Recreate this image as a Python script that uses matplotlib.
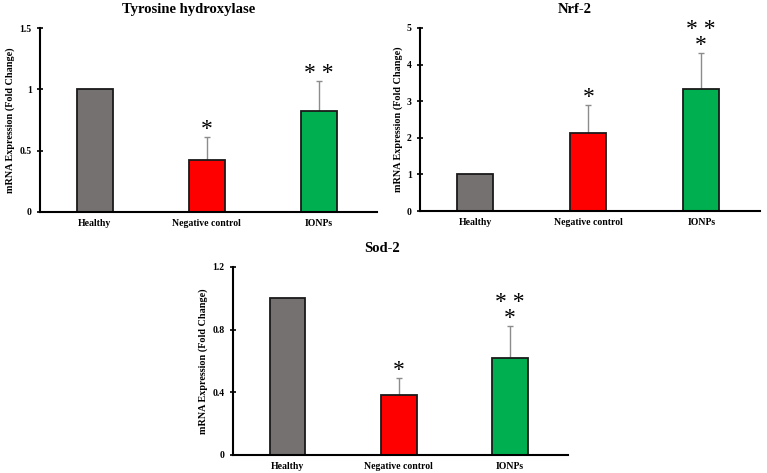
import matplotlib.pyplot as plt
import numpy as np

groups = ["Healthy", "Negative control", "IONPs"]
colors = ["#767171", "#ff0000", "#00b050"]

th_mean = [1.0, 0.42, 0.82]
th_err = [0.0, 0.19, 0.25]
th_stars = ["", "*", "* *"]

nrf_mean = [1.0, 2.14, 3.32]
nrf_err = [0.0, 0.76, 0.99]
nrf_stars = ["", "*", "* *\n*"]

sod_mean = [1.0, 0.383, 0.621]
sod_err = [0.0, 0.11, 0.20]
sod_stars = ["", "*", "* *\n*"]

serif = "Liberation Serif"
plt.rcParams["font.family"] = serif
plt.rcParams["font.weight"] = "bold"

fig = plt.figure(figsize=(7.67, 4.73), dpi=100)


def draw_panel(rect, title, means, errs, stars, ylim, yticks, yticklabels, title_x):
    ax = fig.add_axes(rect)
    x = np.arange(len(groups))
    means = np.array(means)
    errs = np.array(errs)
    ax.bar(x, means, width=0.32, color=colors, edgecolor="#1a1a1a", linewidth=1.3, zorder=2)
    has_err = errs > 0
    ax.vlines(x[has_err], means[has_err], means[has_err] + errs[has_err],
              color="#8c8c8c", linewidth=1, zorder=1)
    ax.plot(x[has_err], means[has_err] + errs[has_err], linestyle="none",
            marker="_", markersize=4, color="#8c8c8c", markeredgewidth=1, zorder=1)
    for xi, m, e, s in zip(x, means, errs, stars):
        if s:
            ax.annotate(
                s, xy=(xi, m + e), xytext=(0, -2), textcoords="offset points",
                ha="center", va="bottom", fontsize=17, linespacing=0.7,
                fontweight="normal",
            )
    ax.set_xlim(-0.49, 2.52)
    ax.set_ylim(*ylim)
    ax.set_yticks(yticks)
    ax.set_yticklabels(yticklabels, fontsize=7, fontweight="bold")
    ax.set_xticks(x)
    ax.set_xticklabels(groups, fontsize=7, fontweight="bold")
    ax.tick_params(axis="x", length=0, pad=5)
    ax.tick_params(axis="y", direction="inout", length=4, width=1.2, pad=4)
    for side in ["top", "right"]:
        ax.spines[side].set_visible(False)
    for side in ["left", "bottom"]:
        ax.spines[side].set_linewidth(1.5)
    ax.set_ylabel("mRNA Expression (Fold Change)", fontsize=7.3, fontweight="bold", labelpad=3)
    ax.annotate(
        title, xy=(title_x, 1.0), xycoords="axes fraction", xytext=(0, 13),
        textcoords="offset points", ha="center", va="center",
        fontsize=10.5, fontweight="bold",
    )
    return ax


draw_panel([0.0522, 0.5518, 0.4394, 0.389], "Tyrosine hydroxylase",
           th_mean, th_err, th_stars, (0, 1.5), [0, 0.5, 1, 1.5],
           ["0", "0.5", "1", "1.5"], 0.44)
draw_panel([0.5476, 0.5539, 0.4433, 0.387], "Nrf-2",
           nrf_mean, nrf_err, nrf_stars, (0, 5), [0, 1, 2, 3, 4, 5],
           ["0", "1", "2", "3", "4", "5"], 0.456)
draw_panel([0.3038, 0.0381, 0.4368, 0.3975], "Sod-2",
           sod_mean, sod_err, sod_stars, (0, 1.2), [0, 0.4, 0.8, 1.2],
           ["0", "0.4", "0.8", "1.2"], 0.445)

fig.savefig("out.png", dpi=100)
